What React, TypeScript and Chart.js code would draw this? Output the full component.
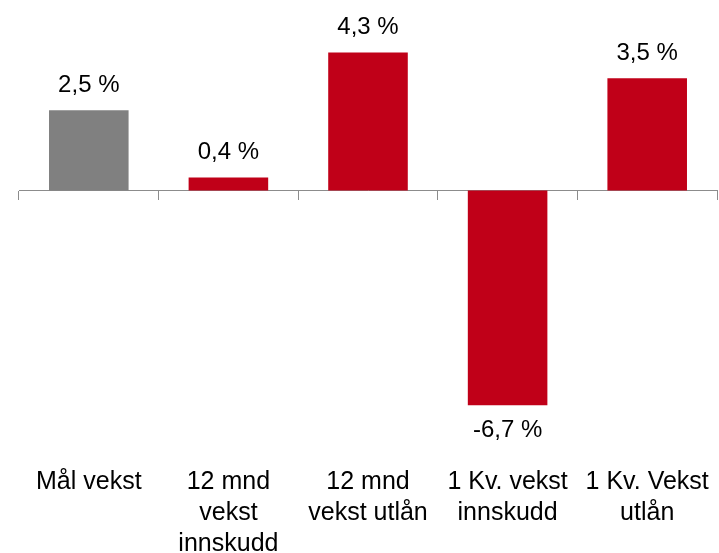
import React, { useEffect, useRef } from "react";
import { Chart, registerables } from "chart.js";

Chart.register(...registerables);

const categories: string[][] = [
  ["Mål vekst"],
  ["12 mnd", "vekst", "innskudd"],
  ["12 mnd", "vekst utlån"],
  ["1 Kv. vekst", "innskudd"],
  ["1 Kv. Vekst", "utlån"],
];
const values: number[] = [2.5, 0.4, 4.3, -6.7, 3.5];
const valueLabels: string[] = ["2,5 %", "0,4 %", "4,3 %", "-6,7 %", "3,5 %"];
const barColors: string[] = ["#808080", "#C00018", "#C00018", "#C00018", "#C00018"];

const FONT = "'Liberation Sans', Arial, sans-serif";

const dataLabelPlugin = {
  id: "dataLabels",
  afterDatasetsDraw(chart: any) {
    const ctx = chart.ctx;
    const meta = chart.getDatasetMeta(0);
    ctx.save();
    ctx.font = `24px ${FONT}`;
    ctx.fillStyle = "#000";
    ctx.textAlign = "center";
    ctx.textBaseline = "middle";
    meta.data.forEach((el: any, i: number) => {
      const v = values[i];
      const y = v >= 0 ? el.y - 25 : el.y + 25;
      ctx.fillText(valueLabels[i], el.x, y);
    });
    ctx.restore();
  },
};

export default function App() {
  const ref = useRef<HTMLCanvasElement | null>(null);
  useEffect(() => {
    if (!ref.current) return;
    const chart = new Chart(ref.current, {
      type: "bar",
      data: {
        labels: categories,
        datasets: [
          {
            data: values,
            backgroundColor: barColors,
            borderWidth: 0,
            categoryPercentage: 1,
            barPercentage: 0.57,
          },
        ],
      },
      options: {
        animation: false,
        responsive: true,
        maintainAspectRatio: false,
        layout: { padding: { left: 19, right: 2, top: 14, bottom: -15 } },
        plugins: { legend: { display: false }, tooltip: { enabled: false } },
        scales: {
          y: { display: false, min: -7.5, max: 5.5 },
          x: {
            type: "category",
            position: "bottom",
            grid: { display: false, drawTicks: true, tickLength: 28 },
            border: { display: false },
            ticks: {
              color: "#000",
              font: { family: FONT, size: 25, lineHeight: 1.24 },
              padding: 8,
              maxRotation: 0,
              minRotation: 0,
              autoSkip: false,
            },
          },
          x2: {
            type: "category",
            labels: categories,
            position: { y: 0 } as any,
            grid: {
              display: true,
              drawOnChartArea: false,
              drawTicks: true,
              tickLength: 9,
              offset: true,
              color: "#8C8C8C",
              lineWidth: 1,
            },
            border: { display: true, color: "#8C8C8C", width: 1 },
            ticks: { display: false },
          },
        },
      },
      plugins: [dataLabelPlugin],
    });
    return () => chart.destroy();
  }, []);
  return (
    <div style={{ position: "fixed", left: 0, top: 0, width: 719, height: 553, background: "#fff" }}>
      <canvas ref={ref} />
    </div>
  );
}
